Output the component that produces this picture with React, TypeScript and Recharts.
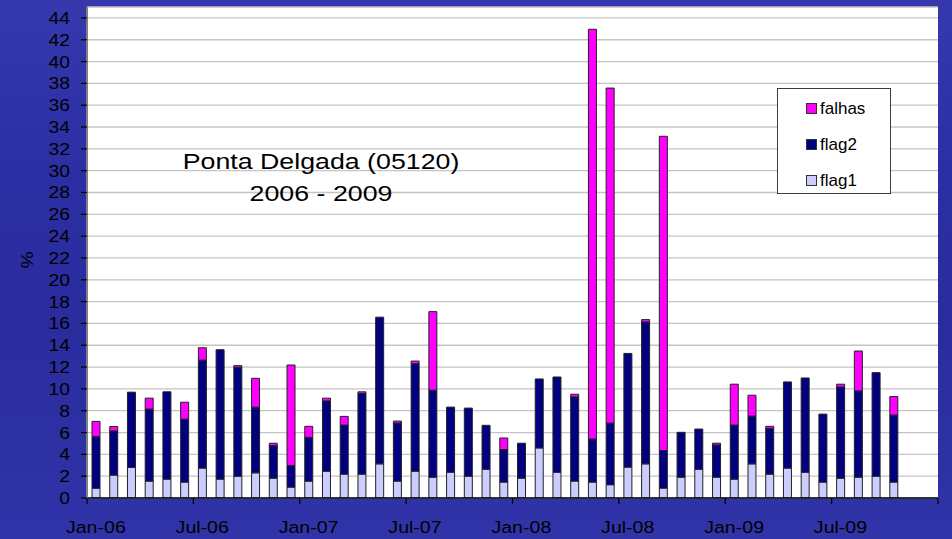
import React from 'react';
import { BarChart, Bar, XAxis, YAxis, CartesianGrid, Legend } from 'recharts';

const months = [
  'Jan-06','Feb-06','Mar-06','Apr-06','May-06','Jun-06','Jul-06','Aug-06','Sep-06','Oct-06','Nov-06','Dec-06',
  'Jan-07','Feb-07','Mar-07','Apr-07','May-07','Jun-07','Jul-07','Aug-07','Sep-07','Oct-07','Nov-07','Dec-07',
  'Jan-08','Feb-08','Mar-08','Apr-08','May-08','Jun-08','Jul-08','Aug-08','Sep-08','Oct-08','Nov-08','Dec-08',
  'Jan-09','Feb-09','Mar-09','Apr-09','May-09','Jun-09','Jul-09','Aug-09','Sep-09','Oct-09','Nov-09','Dec-09',
];

const flag1: (number | null)[] = [
  0.9, 2.1, 2.8, 1.55, 1.73, 1.46, 2.74, 1.73, 2.0, 2.31, 1.82, 1.0,
  1.55, 2.46, 2.19, 2.19, 3.13, 1.55, 2.46, 1.91, 2.37, 2.0, 2.64, 1.46,
  1.82, 4.59, 2.37, 1.55, 1.46, 1.22, 2.83, 3.13, 0.91, 1.91, 2.64, 1.91,
  1.73, 3.13, 2.19, 2.74, 2.37, 1.46, 1.82, 1.91, 2.0, 1.46, null, null,
];

const flag2: (number | null)[] = [
  4.75, 4.05, 6.9, 6.6, 8.0, 5.77, 9.9, 11.86, 9.98, 6.02, 2.98, 1.98,
  4.01, 6.44, 4.5, 7.38, 13.44, 5.32, 9.85, 7.97, 5.96, 6.24, 4.02, 2.98,
  3.2, 6.32, 8.72, 7.72, 3.95, 5.65, 10.42, 13.01, 3.44, 4.11, 3.68, 2.95,
  4.96, 4.38, 4.19, 7.9, 8.63, 6.23, 8.36, 7.91, 9.49, 6.14, null, null,
];

const falhas: (number | null)[] = [
  1.37, 0.4, 0, 1.0, 0, 1.55, 1.13, 0, 0.15, 2.64, 0.22, 9.21,
  1.01, 0.25, 0.79, 0.16, 0, 0.18, 0.24, 7.2, 0, 0, 0, 1.06,
  0, 0, 0, 0.24, 37.55, 30.7, 0, 0.21, 28.8, 0, 0, 0.16,
  3.74, 1.91, 0.19, 0, 0, 0, 0.25, 3.65, 0, 1.7, null, null,
];

const yTicks = [0, 2, 4, 6, 8, 10, 12, 14, 16, 18, 20, 22, 24, 26, 28, 30, 32, 34, 36, 38, 40, 42, 44];

const seriesInfo = [
  { key: 'falhas', color: '#FF00FF' },
  { key: 'flag2', color: '#000080' },
  { key: 'flag1', color: '#CCCCFF' },
];

const data = months.map((m, i) => ({ month: m, flag1: flag1[i], flag2: flag2[i], falhas: falhas[i] }));

const W = 952;
const H = 539;
const M = { top: 7, right: 14, bottom: 6, left: 27 };
const YW = 60;
const XH = 35;
const BAND = (W - M.left - M.right - YW) / months.length;
const FONT = '"Liberation Sans", Arial, sans-serif';

const XTick = (props: any) => {
  const { x, y, index } = props;
  const label = props.payload?.value;
  const els: React.ReactNode[] = [];
  if (index % 6 === 0) {
    els.push(
      <line key="l" x1={x - BAND / 2} x2={x - BAND / 2} y1={y} y2={y + 6} stroke="#000" strokeWidth={1.2} />
    );
    els.push(
      <text key="t" transform={`translate(${x},${y + 35}) scale(1.2,1)`} textAnchor="middle" fontSize={16.3} fontFamily={FONT} fill="#000">
        {label}
      </text>
    );
  }
  if (index === months.length - 1) {
    els.push(<line key="r" x1={x + BAND / 2} x2={x + BAND / 2} y1={y} y2={y + 6} stroke="#000" strokeWidth={1.2} />);
  }
  return <g>{els}</g>;
};

const YTick = (props: any) => {
  const { x, y, payload } = props;
  return (
    <text transform={`translate(${x},${y + 6}) scale(1.17,1)`} textAnchor="end" fontSize={16.5} fontFamily={FONT} fill="#000">
      {payload.value}
    </text>
  );
};

const LegendBox = () => (
  <svg width={114} height={106} style={{ display: 'block' }}>
    {seriesInfo.map((s, i) => (
      <g key={s.key}>
        <rect x={28.5} y={14.5 + i * 36} width={10} height={10} fill={s.color} stroke="#333" strokeWidth={1} />
        <text x={42} y={25 + i * 36} fontSize={17} fontFamily={FONT} fill="#000">{s.key}</text>
      </g>
    ))}
  </svg>
);

export default function App() {
  return (
    <div
      style={{
        position: 'absolute',
        left: 0,
        top: 0,
        width: W,
        height: H,
        overflow: 'hidden',
        background:
          'linear-gradient(180deg, #3539ad 0%, #2b2ea2 35%, #2a2c9e 60%, #3034a8 100%)',
      }}
    >
      <BarChart width={W} height={H} data={data} margin={M} barSize={8}>
        <CartesianGrid vertical={false} stroke="#c4c4c4" strokeWidth={1.3} fill="#ffffff" fillOpacity={1} />
        <XAxis
          dataKey="month"
          height={XH}
          interval={0}
          tickLine={false}
          tickSize={0}
          tickMargin={0}
          axisLine={{ stroke: '#000', strokeWidth: 1.5 }}
          tick={<XTick />}
        />
        <YAxis
          width={YW}
          domain={[0, 45]}
          ticks={yTicks}
          interval={0}
          allowDataOverflow
          tickSize={6}
          tickMargin={11}
          tickLine={{ stroke: '#000', strokeWidth: 1.2 }}
          axisLine={{ stroke: '#808080', strokeWidth: 2 }}
          tick={<YTick />}
        />
        <Legend
          layout="vertical"
          align="center"
          verticalAlign="middle"
          content={() => <LegendBox />}
          wrapperStyle={{
            position: 'absolute',
            left: 777,
            top: 88,
            width: 114,
            height: 106,
            background: '#fff',
            border: '1px solid #3c3c3c',
            boxSizing: 'border-box',
          }}
        />
        <Bar dataKey="flag1" stackId="a" fill="#CCCCFF" stroke="#222" strokeWidth={1} isAnimationActive={false} />
        <Bar dataKey="flag2" stackId="a" fill="#000080" stroke="#222" strokeWidth={1} isAnimationActive={false} />
        <Bar dataKey="falhas" stackId="a" fill="#FF00FF" stroke="#222" strokeWidth={1} isAnimationActive={false} />
      </BarChart>
      <svg width={W} height={H} style={{ position: 'absolute', left: 0, top: 0, pointerEvents: 'none' }}>
        <text transform="translate(321,169) scale(1.25,1)" textAnchor="middle" fontSize={21.4} fontFamily={FONT} fill="#000">
          Ponta Delgada (05120)
        </text>
        <text transform="translate(321,201) scale(1.25,1)" textAnchor="middle" fontSize={21.4} fontFamily={FONT} fill="#000">
          2006 - 2009
        </text>
        <text transform="translate(33,260) rotate(-90) scale(1.17,1)" textAnchor="middle" fontSize={16.5} fontFamily={FONT} fill="#000">
          %
        </text>
      </svg>
    </div>
  );
}
